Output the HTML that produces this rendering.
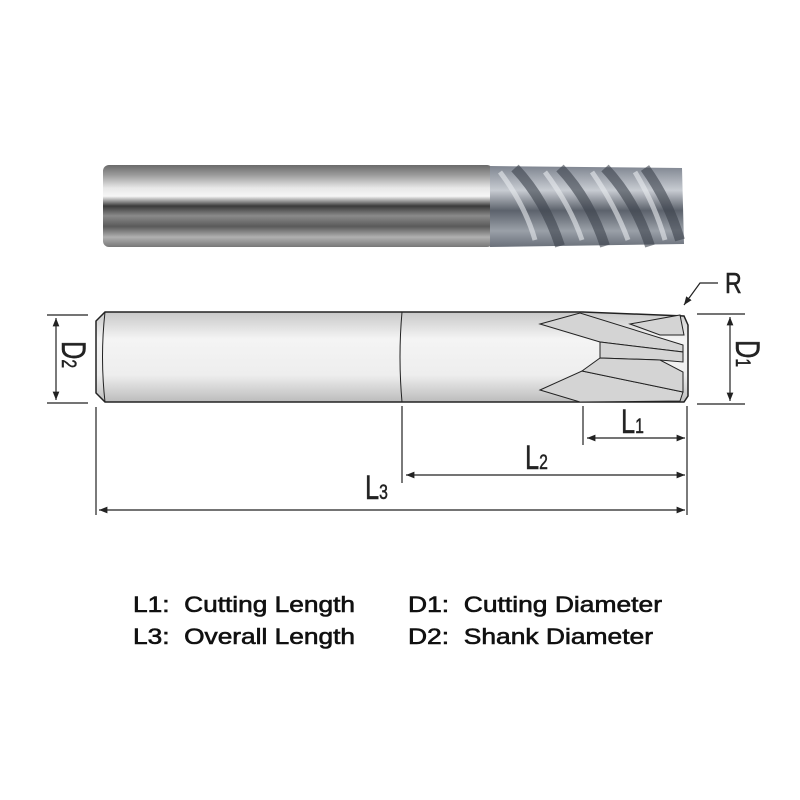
<!DOCTYPE html>
<html><head><meta charset="utf-8"><style>html,body{margin:0;padding:0;background:#fff;width:800px;height:800px;overflow:hidden}</style></head>
<body>
<svg width="800" height="800" viewBox="0 0 800 800" xmlns="http://www.w3.org/2000/svg" font-family="Liberation Sans, sans-serif">
<defs>
<linearGradient id="shk" x1="0" y1="0" x2="0" y2="1">
<stop offset="0" stop-color="#6a6a6a"/><stop offset="0.12" stop-color="#9a9a9a"/><stop offset="0.28" stop-color="#e8e8e8"/><stop offset="0.38" stop-color="#f6f6f6"/><stop offset="0.5" stop-color="#3a3a3a"/><stop offset="0.62" stop-color="#8a8a8a"/><stop offset="0.75" stop-color="#5a5a5a"/><stop offset="0.88" stop-color="#b0b0b0"/><stop offset="1" stop-color="#777"/>
</linearGradient>
<linearGradient id="flt" x1="0" y1="0" x2="0" y2="1">
<stop offset="0" stop-color="#7f8590"/><stop offset="0.3" stop-color="#c8ccd2"/><stop offset="0.55" stop-color="#5c626c"/><stop offset="0.8" stop-color="#9aa0a8"/><stop offset="1" stop-color="#6a707a"/>
</linearGradient>
<linearGradient id="body" x1="0" y1="0" x2="0" y2="1">
<stop offset="0" stop-color="#c8c8c8"/><stop offset="0.3" stop-color="#f4f4f4"/><stop offset="0.7" stop-color="#eeeeee"/><stop offset="1" stop-color="#bcbcbc"/>
</linearGradient>
<marker id="a" viewBox="0 0 10 10" refX="10" refY="5" markerWidth="7" markerHeight="7" orient="auto-start-reverse"><path d="M0,1 L10,5 L0,9 Z" fill="#222"/></marker>
</defs>
<rect x="103" y="165" width="390" height="82" rx="6" fill="url(#shk)"/>
<path d="M490,166 L682,168 L684,244 L490,247 Z" fill="url(#flt)"/>
<g stroke="#3c424c" stroke-width="10" opacity="0.6" fill="none">
<path d="M515,168 Q545,200 560,246"/><path d="M560,168 Q590,200 605,246"/><path d="M605,168 Q635,200 650,246"/><path d="M645,168 Q668,200 680,240"/>
</g>
<g stroke="#e8ebef" stroke-width="5" opacity="0.6" fill="none">
<path d="M500,172 Q525,205 535,240"/><path d="M545,172 Q570,205 582,240"/><path d="M592,172 Q615,205 628,240"/><path d="M635,172 Q655,205 665,240"/>
</g>
<path d="M105,312 L583,312 L684,316 L688,325 L688,396 L684,402 L583,402 L105,402 L96,393 L96,321 Z" fill="url(#body)" stroke="#222" stroke-width="1.5"/>
<path d="M105,312 Q100,357 105,402" fill="none" stroke="#222" stroke-width="1"/>
<path d="M402,312 Q398,357 402,402" fill="none" stroke="#222" stroke-width="1"/>
<g fill="#d4d4d4" stroke="#222" stroke-width="1">
<path d="M540,324 L580,313 L683,345 L683,352 L600,342 Z"/>
<path d="M600,342 L683,352 L683,362 L660,360 L600,358 Z"/>
<path d="M630,324 L680,315 L684,335 L660,335 Z"/>
<path d="M540,390 L582,371 L683,392 L680,401 L580,402 Z"/>
<path d="M582,371 L600,358 L660,360 L683,372 L683,392 Z"/>
</g>
<g stroke="#222" stroke-width="1.2" fill="none">
<line x1="47" y1="315" x2="88" y2="315"/><line x1="47" y1="403" x2="88" y2="403"/>
<line x1="56" y1="318" x2="56" y2="400" marker-start="url(#a)" marker-end="url(#a)"/>
<line x1="697" y1="314" x2="745" y2="314"/><line x1="697" y1="404" x2="745" y2="404"/>
<line x1="730" y1="317" x2="730" y2="401" marker-start="url(#a)" marker-end="url(#a)"/>
<line x1="96" y1="407" x2="96" y2="515"/><line x1="402" y1="406" x2="402" y2="483"/>
<line x1="583" y1="406" x2="583" y2="445"/><line x1="687" y1="406" x2="687" y2="515"/>
<line x1="587" y1="438" x2="685" y2="438" marker-start="url(#a)" marker-end="url(#a)"/>
<line x1="406" y1="475" x2="685" y2="475" marker-start="url(#a)" marker-end="url(#a)"/>
<line x1="99" y1="510" x2="685" y2="510" marker-start="url(#a)" marker-end="url(#a)"/>
<polyline points="718,283 700,283 684,305" marker-end="url(#a)"/>
</g>
<g fill="#222" font-size="34" stroke="#222" stroke-width="0.5">
<text transform="translate(725,293) scale(0.8,1)" font-size="29">R</text>
<text transform="translate(621,433) scale(0.75,1)">L<tspan font-size="21">1</tspan></text>
<text transform="translate(525,469) scale(0.75,1)">L<tspan font-size="21">2</tspan></text>
<text transform="translate(365,499) scale(0.75,1)">L<tspan font-size="21">3</tspan></text>
<text transform="translate(62,341) rotate(90) scale(0.75,1)">D<tspan font-size="21">2</tspan></text>
<text transform="translate(736,340) rotate(90) scale(0.75,1)">D<tspan font-size="21">1</tspan></text>
</g>
<g fill="#111" font-size="22" stroke="#111" stroke-width="0.6">
<text x="133" y="612" xml:space="preserve" textLength="222" lengthAdjust="spacingAndGlyphs">L1:  Cutting Length</text>
<text x="133" y="644" xml:space="preserve" textLength="222" lengthAdjust="spacingAndGlyphs">L3:  Overall Length</text>
<text x="408" y="612" xml:space="preserve" textLength="254" lengthAdjust="spacingAndGlyphs">D1:  Cutting Diameter</text>
<text x="408" y="644" xml:space="preserve" textLength="245" lengthAdjust="spacingAndGlyphs">D2:  Shank Diameter</text>
</g>
</svg>
</body></html>
